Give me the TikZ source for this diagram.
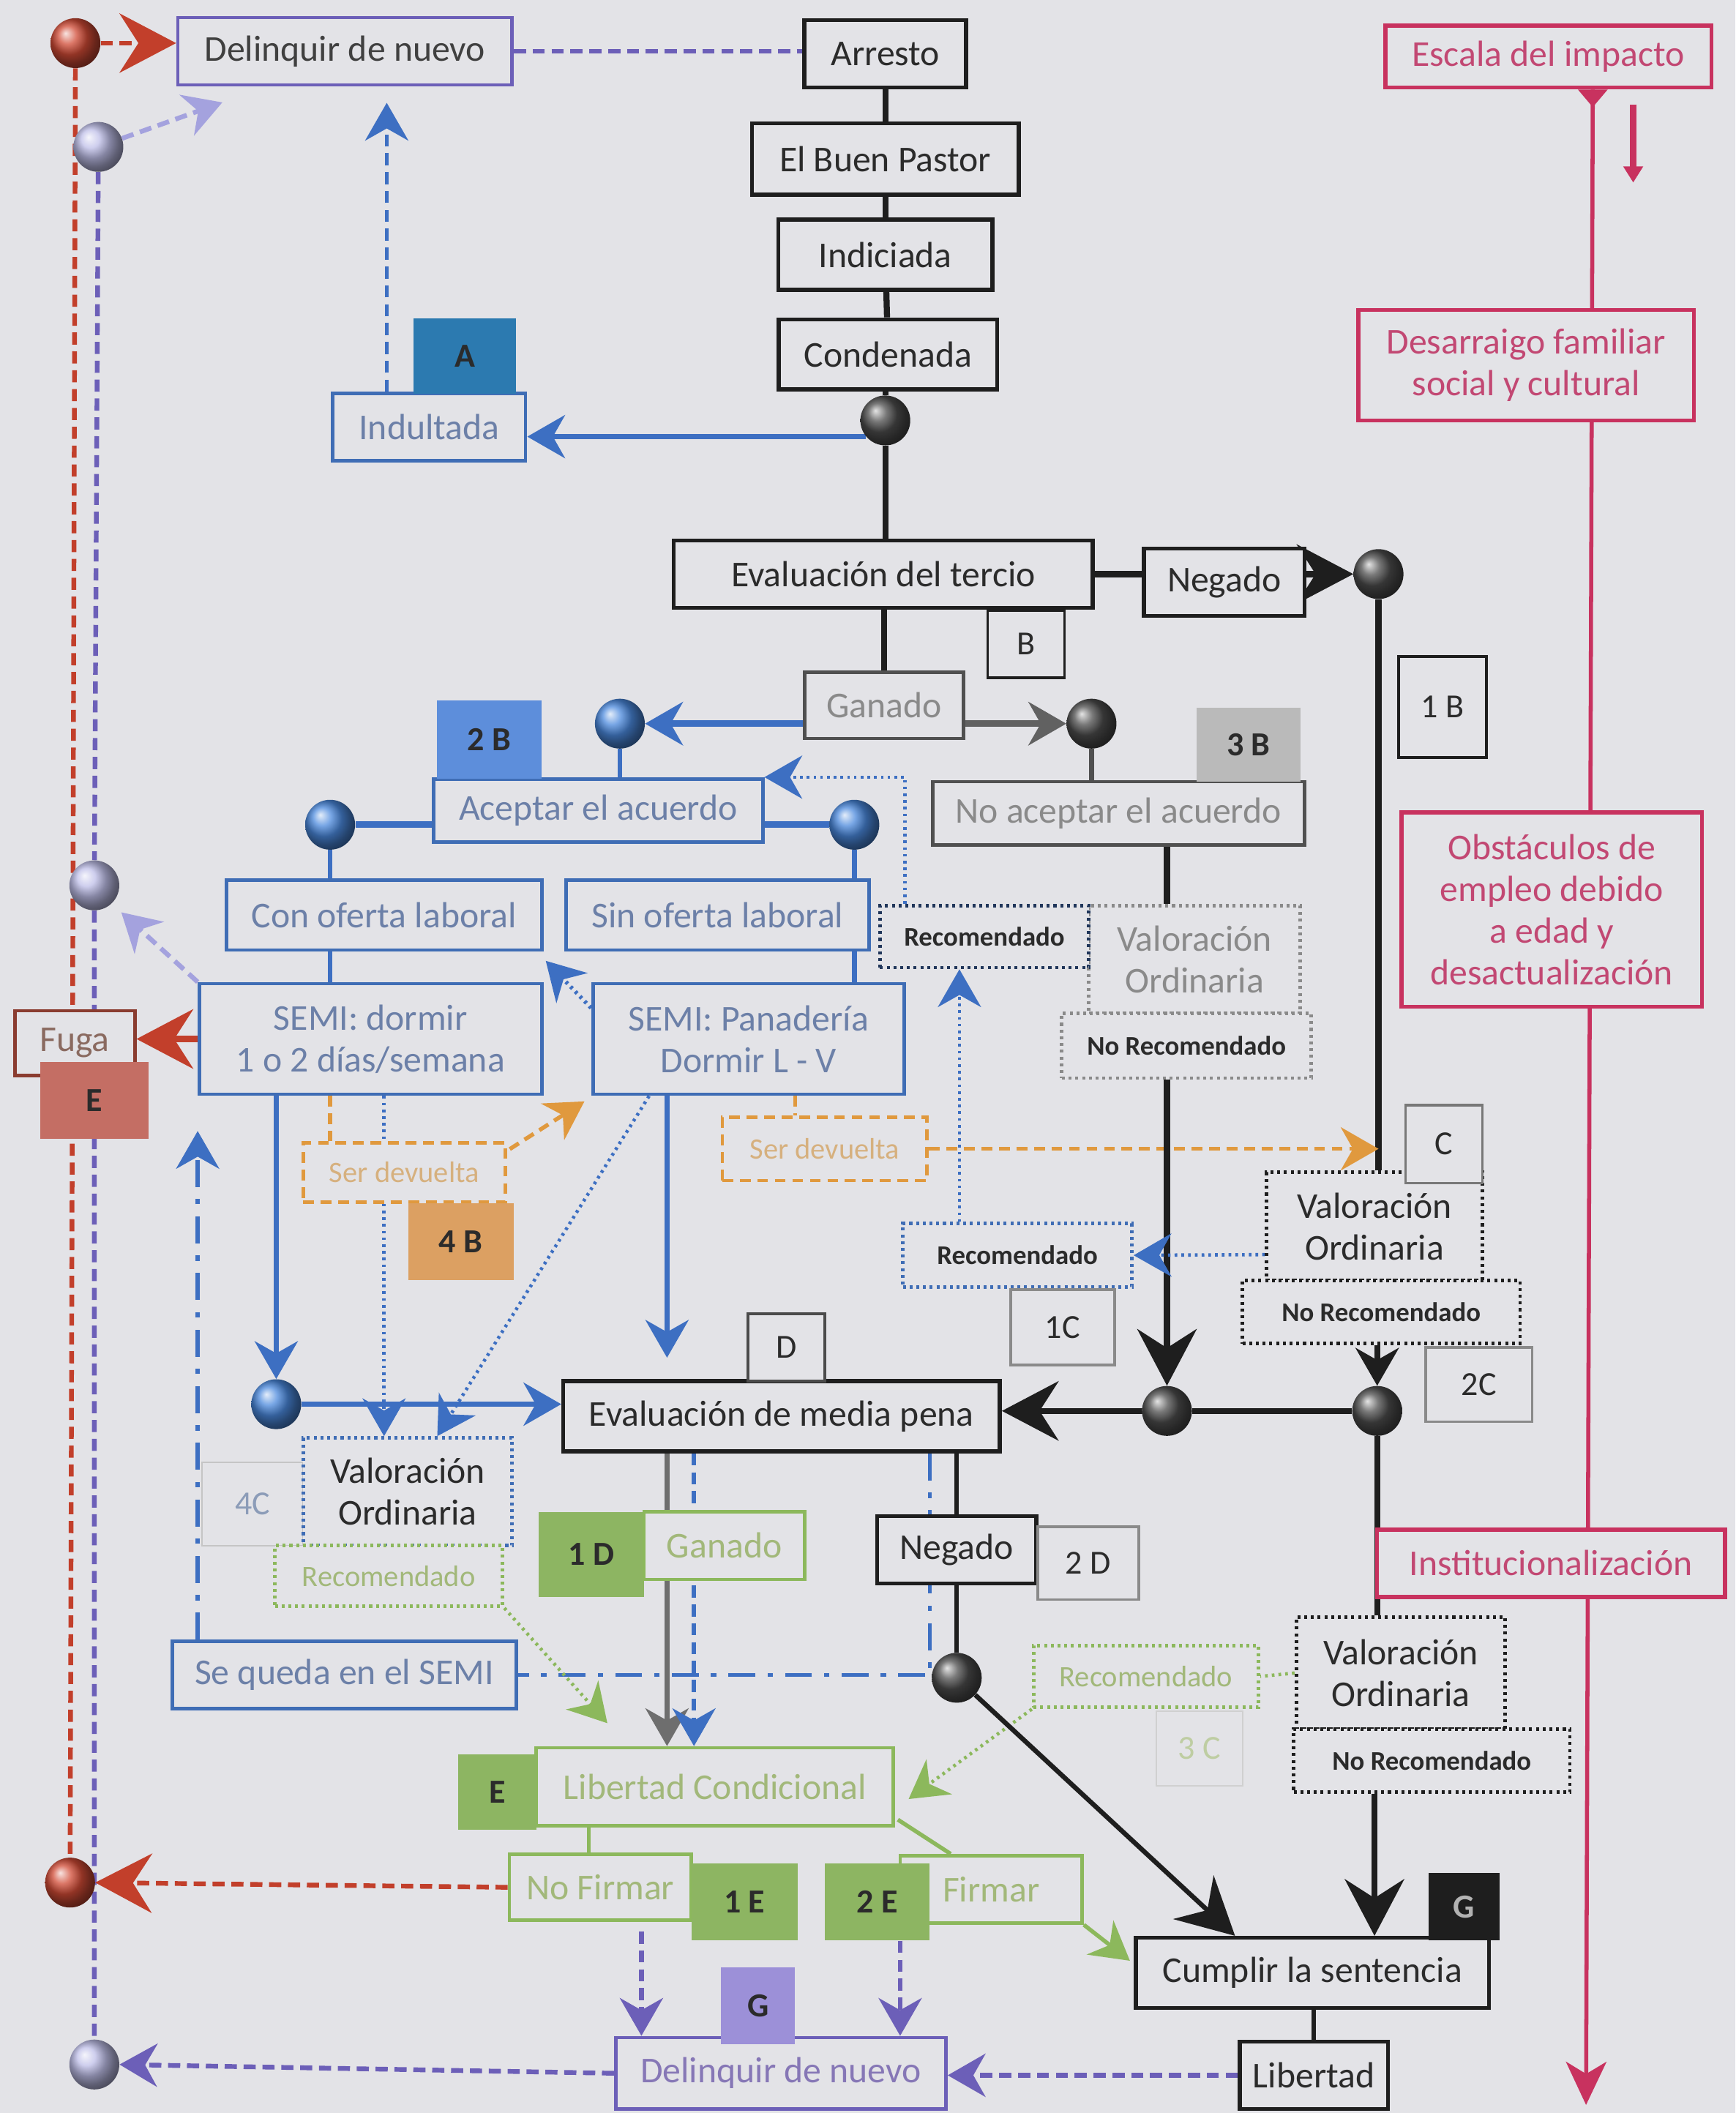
\documentclass[tikz,border=0pt]{standalone}
\usepackage{fontspec}
\setmainfont{Carlito}
\usetikzlibrary{arrows.meta,calc}
\pgfdeclarelayer{bgl}
\pgfdeclarelayer{edges}
\pgfsetlayers{bgl,edges,main}
\definecolor{bgc}{HTML}{E3E3E7}
\definecolor{blk}{HTML}{1E1E1E}
\definecolor{blktxt}{HTML}{2B2B2B}
\definecolor{bluec}{HTML}{3F6DB5}
\definecolor{bluetxt}{HTML}{6C80A8}
\definecolor{bluel}{HTML}{3D6FC2}
\definecolor{blueball}{HTML}{4A88DC}
\definecolor{greenc}{HTML}{8CB85C}
\definecolor{greentxt}{HTML}{A2B87A}
\definecolor{greenf}{HTML}{8DB562}
\definecolor{grayc}{HTML}{505050}
\definecolor{graytxt}{HTML}{8A8A8A}
\definecolor{grayf}{HTML}{BABABA}
\definecolor{purc}{HTML}{6C5FB8}
\definecolor{purtxt}{HTML}{8677B6}
\definecolor{purf}{HTML}{9C90D8}
\definecolor{magc}{HTML}{C8325F}
\definecolor{magtxt}{HTML}{C24873}
\definecolor{orc}{HTML}{E0993E}
\definecolor{ortxt}{HTML}{D6B07E}
\definecolor{orf}{HTML}{DCA062}
\definecolor{tealc}{HTML}{2C7AB0}
\definecolor{blf}{HTML}{5D8EDB}
\definecolor{fugac}{HTML}{8A3C30}
\definecolor{fugatxt}{HTML}{8A6A60}
\definecolor{ef}{HTML}{C46E64}
\definecolor{redc}{HTML}{C23F2B}
\definecolor{redb}{HTML}{D04A35}
\definecolor{lavb}{HTML}{BEBEE8}
\definecolor{lavc}{HTML}{A4A2DE}
\definecolor{labfc}{HTML}{8C9CB8}
\newcommand\mf{\fontsize{27}{31}\selectfont}
\newcommand\smf{\fontsize{22}{26}\selectfont}
\newcommand\rbf{\fontsize{20}{24}\selectfont\bfseries}
\newcommand\lbf{\fontsize{25}{28}\selectfont}
\begin{document}
\begin{tikzpicture}[x=1pt,y=-1pt,
  bx/.style={draw, fill=bgc, inner sep=0pt, align=center, font=\mf},
  bk/.style={bx, draw=blk, line width=3pt, text=blktxt},
  bl/.style={bx, draw=bluec, line width=2.6pt, text=bluetxt},
  gn/.style={bx, draw=greenc, line width=2.6pt, text=greentxt},
  gy/.style={bx, draw=grayc, line width=2.6pt, text=graytxt},
  pu/.style={bx, draw=purc, line width=2.6pt},
  mg/.style={bx, draw=magc, line width=3pt, text=magtxt},
  dt/.style={bx, line width=2.6pt, dash pattern=on 2.2pt off 2.8pt},
  obox/.style={bx, draw=orc, line width=2.6pt, dash pattern=on 8pt off 5pt, text=ortxt, font=\smf},
  lab/.style={draw=#1, fill=bgc, line width=2pt, inner sep=0pt, font=\lbf, text=blktxt},
  flab/.style={fill=#1, draw=none, inner sep=0pt, font=\lbf\bfseries, text=blktxt},
  ballc/.style={circle, inner sep=0pt, minimum size=37pt, shading=ball, ball color=#1},
  tipm/.style={-{Stealth[length=28pt,width=32pt,inset=9pt]}},
  tipb/.style={-{Stealth[length=42pt,width=44pt,inset=14pt]}},
  kline/.style={draw=blk, line width=4.5pt},
  bline/.style={draw=bluel, line width=3.5pt},
  bdash/.style={draw=bluel, line width=3pt, dash pattern=on 9pt off 5pt},
  bdot/.style={draw=bluel, line width=2.5pt, dash pattern=on 2pt off 3pt},
  bdd/.style={draw=bluel, line width=3pt, dash pattern=on 20pt off 9pt on 4pt off 9pt},
  gdot/.style={draw=greenc, line width=2.5pt, dash pattern=on 2pt off 3pt},
  odash/.style={draw=orc, line width=3pt, dash pattern=on 8pt off 5pt},
  pdash/.style={draw=purc, line width=3.5pt, dash pattern=on 9pt off 5pt},
  rdash/.style={draw=redc, line width=3.5pt, dash pattern=on 9pt off 5pt},
  ldash/.style={draw=lavc, line width=3.5pt, dash pattern=on 9pt off 5pt},
  mline/.style={draw=magc, line width=3pt},
]
\useasboundingbox (0,0) rectangle (1288,1568);
\begin{pgfonlayer}{bgl}
\fill[bgc] (0,0) rectangle (1288,1568);
\end{pgfonlayer}

% ---------- nodes ----------
\node[bk, minimum width=120, minimum height=50] (arresto) at (657,40) {Arresto};
\node[bk, minimum width=198, minimum height=53] (pastor) at (657,118) {El Buen Pastor};
\node[bk, minimum width=159, minimum height=52] (indic) at (657,189) {Indiciada};
\node[bk, minimum width=162, minimum height=52] (conden) at (659,263) {Condenada};
\node[ballc=black!70] (ball1) at (657,312) {};
\node[bl, minimum width=143, minimum height=50] (indul) at (318.5,317) {Indultada};
\node[flab=tealc, minimum width=76, minimum height=56] (labA) at (345,264) {A};
\node[pu, text=blktxt!90, minimum width=248, minimum height=50] (delinq1) at (256,38) {Delinquir de nuevo};

\node[mg, minimum width=242, minimum height=46] (escala) at (1149,42) {Escala del impacto};
\node[mg, minimum width=249, minimum height=82] (desarr) at (1132.5,271) {Desarraigo familiar\\social y cultural};
\node[mg, minimum width=223, minimum height=144] (obst) at (1151.5,675) {Obstáculos de\\empleo debido\\a edad y\\desactualización};
\node[mg, minimum width=258, minimum height=50] (instit) at (1151,1160) {Institucionalización};

\node[bk, minimum width=311, minimum height=50] (evter) at (655.5,426) {Evaluación del tercio};
\node[bk, minimum width=119, minimum height=50] (negado1) at (908.5,432) {Negado};
\node[ballc=black!70] (ball2) at (1023,426) {};
\node[lab=blk, minimum width=57, minimum height=50] (labB) at (761.5,478) {B};
\node[lab=blk, minimum width=65, minimum height=75] (lab1B) at (1070.5,524.5) {1 B};

\node[gy, minimum width=118, minimum height=49] (ganado1) at (656,523.5) {Ganado};
\node[ballc=blueball] (bball1) at (460,537) {};
\node[ballc=black!70] (ball3) at (810,537) {};
\node[bl, minimum width=244, minimum height=47] (aceptar) at (444,601.5) {Aceptar el acuerdo};
\node[flab=blf, minimum width=78, minimum height=58] (lab2B) at (363,549) {2 B};
\node[ballc=blueball] (bball2) at (245,612) {};
\node[ballc=blueball] (bball3) at (634,612) {};
\node[gy, minimum width=276, minimum height=47] (noacept) at (830,603.5) {No aceptar el acuerdo};
\node[flab=grayf, minimum width=77, minimum height=55] (lab3B) at (926.5,552.5) {3 B};

\node[dt, draw=graytxt, text=graytxt, minimum width=157, minimum height=80] (valg) at (886.5,712) {Valoración\\Ordinaria};
\node[dt, draw=bluec!50!black, font=\rbf, text=blktxt, minimum width=155, minimum height=46] (rec1) at (730.5,695) {Recomendado};
\node[dt, draw=graytxt, font=\rbf, text=blktxt, minimum width=185, minimum height=48] (norec1) at (880.5,776) {No Recomendado};

\node[bl, minimum width=234, minimum height=52] (conof) at (285,679) {Con oferta laboral};
\node[bl, minimum width=225, minimum height=52] (sinof) at (532.5,679) {Sin oferta laboral};
\node[bl, minimum width=254, minimum height=82] (semid) at (275,771) {SEMI: dormir\\1 o 2 días/semana};
\node[bl, minimum width=231, minimum height=82] (semip) at (555.5,771) {SEMI: Panadería\\Dormir L - V};
\node[bx, draw=fugac, line width=2.6pt, text=fugatxt, minimum width=89, minimum height=48] (fuga) at (55.5,774) {Fuga};
\node[flab=ef, minimum width=80, minimum height=57] (labE1) at (70,816.5) {E};

\node[obox, minimum width=150, minimum height=44] (serdev1) at (300,870) {Ser devuelta};
\node[flab=orf, minimum width=78, minimum height=57] (lab4B) at (342,921.5) {4 B};
\node[obox, minimum width=152, minimum height=47] (serdev2) at (612,852.5) {Ser devuelta};

\node[dt, draw=blk, text=blktxt, minimum width=160, minimum height=80] (valC) at (1020,910) {Valoración\\Ordinaria};
\node[lab=blk!60, minimum width=57, minimum height=58] (labC) at (1071.5,849) {C};
\node[dt, draw=bluec, font=\rbf, text=blktxt, minimum width=170, minimum height=47] (recC) at (755,931.5) {Recomendado};
\node[lab=graytxt, minimum width=77, minimum height=56] (lab1C) at (788.5,985) {1C};
\node[dt, draw=blk, font=\rbf, text=blktxt, minimum width=206, minimum height=47] (norecC) at (1025,973.5) {No Recomendado};
\node[lab=graytxt, minimum width=79, minimum height=55] (lab2C) at (1097.5,1027.5) {2C};
\node[ballc=black!70] (ball4) at (866,1047) {};
\node[ballc=black!70] (ball5) at (1022,1047) {};

\node[bk, minimum width=324, minimum height=52] (evmed) at (580,1051) {Evaluación de media pena};
\node[lab=blk!80, minimum width=57, minimum height=50] (labD) at (583.5,1000) {D};
\node[ballc=blueball] (bball4) at (205,1042) {};
\node[lab=graytxt!50, line width=1.2pt, text=labfc, minimum width=75, minimum height=62] (lab4C) at (187.5,1116) {4C};
\node[dt, draw=bluec, text=blktxt, minimum width=155, minimum height=80] (val4C) at (302.5,1107) {Valoración\\Ordinaria};
\node[dt, draw=greenc, text=greentxt, font=\smf, minimum width=169, minimum height=45] (rec4C) at (288.5,1169.5) {Recomendado};
\node[flab=greenf, minimum width=78, minimum height=63] (lab1D) at (439,1153.5) {1 D};
\node[gn, minimum width=119, minimum height=50] (ganado2) at (537.5,1147) {Ganado};
\node[bk, minimum width=118, minimum height=50] (negado2) at (710,1150) {Negado};
\node[lab=graytxt, minimum width=75, minimum height=54] (lab2D) at (807.5,1160) {2 D};
\node[ballc=black!70] (ball6) at (710,1245) {};
\node[bl, minimum width=255, minimum height=50] (sequeda) at (255.5,1243) {Se queda en el SEMI};
\node[dt, draw=greenc, text=greentxt, font=\smf, minimum width=167, minimum height=46] (rec3C) at (850.5,1244) {Recomendado};
\node[lab=graytxt!40, line width=1.2pt, text=greentxt!70!white, minimum width=64, minimum height=55] (lab3C) at (890,1297.5) {3 C};
\node[dt, draw=blk, text=blktxt, minimum width=155, minimum height=83] (val3C) at (1039.5,1241.5) {Valoración\\Ordinaria};
\node[dt, draw=blk, font=\rbf, text=blktxt, minimum width=205, minimum height=47] (norec3C) at (1062.5,1306.5) {No Recomendado};

\node[gn, minimum width=265, minimum height=58] (libcond) at (530.5,1326) {Libertad Condicional};
\node[flab=greenf, minimum width=58, minimum height=56] (labE2) at (369,1330) {E};
\node[gn, minimum width=135, minimum height=49] (nofirm) at (445.5,1400.5) {No Firmar};
\node[flab=greenf, minimum width=79, minimum height=57] (lab1E) at (552.5,1411.5) {1 E};
\node[gn, minimum width=135, minimum height=50] (firmar) at (735.5,1402) {Firmar};
\node[flab=greenf, minimum width=78, minimum height=57] (lab2E) at (651,1411.5) {2 E};
\node[bk, minimum width=262, minimum height=52] (cumplir) at (974,1464) {Cumplir la sentencia};
\node[flab=blk, text=white!70!black, minimum width=53, minimum height=50] (labG1) at (1086.5,1415) {G};
\node[bk, minimum width=110, minimum height=50] (libertad) at (975,1540) {Libertad};
\node[pu, text=purtxt, minimum width=245, minimum height=53] (delinq2) at (579.5,1538.5) {Delinquir de nuevo};
\node[flab=purf, minimum width=55, minimum height=57] (labG2) at (562.5,1488.5) {G};

\node[ballc=redb] (rball1) at (56,32) {};
\node[ballc=lavb] (lball1) at (73,109) {};
\node[ballc=lavb] (lball2) at (70,657) {};
\node[ballc=redb] (rball2) at (52,1397) {};
\node[ballc=lavb] (lball3) at (70,1532) {};

\coordinate (lavtip1) at (165,76);
\coordinate (bt1) at (405,713);
\coordinate (magend) at (1177,1562);

% ---------- connectors ----------
\begin{pgfonlayer}{edges}
\draw[mline,-{Stealth[length=32pt,width=30pt,inset=9pt]}] ($(escala.south)+(33,0)$) -- (magend);
\fill[magc] ($(escala.south)+(22,0)$) -- ($(escala.south)+(44,0)$) -- ($(escala.south)+(33,13)$) -- cycle;
\draw[draw=magc, line width=5pt, -{Triangle[length=12pt,width=14pt]}] ($(escala.south)+(63,11)$) -- ($(escala.south)+(63,69)$);

\draw[kline] (arresto) -- (pastor);
\draw[kline] (pastor) -- (indic);
\draw[kline] (indic) -- (conden);
\draw[kline] (conden.south -| ball1) -- (ball1) -- (ball1 |- evter.north);
\draw[bline, tipm] (ball1.220) -- (indul.east |- ball1.220);
\draw[bdash, tipm] ($(indul.north)+(-31.5,0)$) -- ($(delinq1.south)+(31,12)$);
\draw[pdash] (delinq1.east) -- (arresto.west |- delinq1.east);
\draw[rdash, tipb] (rball1) -- (delinq1.west |- rball1);
\draw[ldash, tipm] (lball1) -- (lavtip1);
\draw[rdash] (rball1) -- (rball2);
\draw[pdash] (lball1) -- (lball2) -- (lball3);

\draw[kline] (evter.east) -- (negado1.west |- evter.east);
\draw[kline, tipb] (negado1.east |- ball2) -- (ball2.west);
\draw[kline] (ball2) -- (ball2 |- valC.north);
\draw[kline] (evter.south -| ganado1) -- (ganado1.north);
\draw[bline, line width=5pt, tipm] (ganado1.west |- bball1) -- (bball1.east);
\draw[draw=graytxt!70!black, line width=5pt, tipm] (ganado1.east |- ball3) -- (ball3.west);
\draw[bline] (bball1) -- (bball1 |- aceptar.north);
\draw[draw=grayc, line width=3.5pt] (ball3) -- (ball3 |- noacept.north);
\draw[bline, line width=5pt] (aceptar.west |- bball2) -- (bball2);
\draw[bline, line width=5pt] (aceptar.east |- bball3) -- (bball3);
\draw[bline] (bball2) -- (bball2 |- conof.north);
\draw[bline] (bball3) -- (bball3 |- sinof.north);
\draw[bline] (conof.south -| bball2) -- (semid.north -| bball2);
\draw[bline] (sinof.south -| bball3) -- (semip.north -| bball3);
\draw[bdot, line width=3pt, tipm] ($(semip.west)+(0,-23)$) -- (bt1);
\draw[draw=redc, line width=5pt, tipb] (semid.west) -- (fuga.east |- semid.west);
\draw[ldash, tipm] (semid.north west) -- ($(lball2)+(20,20)$);
\draw[bline, tipm] (semid.south -| bball4) -- (bball4.north);
\draw[bline, tipm] (bball4) -- (evmed.west |- bball4);
\draw[bline, tipm] ($(semip.south)+(-60.5,0)$) -- ($(evmed.north)+(-85,-16)$);
\draw[odash] ($(semid.south)+(-30,0)$) -- ($(serdev1.north)+(-55,0)$);
\draw[odash, tipm] ($(serdev1.north east)+(2,6)$) -- ($(semip.south west)+(-5,4)$);
\draw[bdot, tipm] ($(semid.south)+(10,0)$) -- ($(val4C.north)+(-17.5,0)$);
\draw[bdot, tipm] ($(semip.south west)+(43,0)$) -- ($(val4C.north)+(22,0)$);
\draw[odash] ($(semip.south)+(34.5,0)$) -- ($(serdev2.north)+(-22,0)$);
\draw[odash, tipm] (serdev2.east) -- (serdev2.east -| ball2);
\draw[bdot, tipm] ($(recC.north)+(-43,0)$) -- ($(rec1.south)+(-18.5,0)$);
\draw[bdot, tipm] ($(rec1.north west)+(20,0)$) |- (aceptar.north east);

\draw[kline] (noacept.south -| ball4) -- (valg.north -| ball4);
\draw[kline, tipb] (norec1.south -| ball4) -- (ball4.north);
\draw[bdot, tipm] ($(valC.west)+(0,21)$) -- (recC.east);
\draw[kline, tipm] (norecC.south -| ball5) -- (ball5.north);
\draw[kline] (ball5) -- (ball4);
\draw[kline, tipb] (ball4) -- (evmed.east |- ball4);
\draw[kline] (ball5) -- (ball5 |- val3C.north);

\draw[draw=graytxt!80!black, line width=3.5pt, tipm] ($(evmed.south)+(-85,0)$) -- ($(libcond.north)+(-35.5,0)$);
\draw[bdash, tipm] ($(evmed.south)+(-65,0)$) -- ($(libcond.north)+(-15.5,0)$);
\draw[kline, line width=3.5pt] (evmed.south -| negado2) -- (negado2.north);
\draw[kline, line width=3.5pt] (negado2.south) -- (ball6);
\draw[bdd] ($(evmed.south)+(110,0)$) |- (sequeda.east);
\draw[bdd, tipm] ($(sequeda.north west)+(20,0)$) -- ($(semid.south west)+(0,26)$);
\draw[gdot] (val3C.west) -- (rec3C.east);
\draw[gdot, tipm] (rec3C.south west) -- ($(libcond.east)+(10,9)$);
\draw[gdot, tipm] (rec4C.south east) -- ($(libcond.north west)+(54,-17)$);
\draw[kline, line width=3.5pt, tipb] (ball6) -- ($(cumplir.north west)+(75,0)$);
\draw[kline, tipb] ($(norec3C.south)+(-42.5,0)$) -- ($(cumplir.north)+(46,0)$);
\draw[kline, line width=3.5pt] (cumplir.south -| libertad) -- (libertad.north);
\draw[pdash, tipm] (libertad.west) -- (delinq2.east |- libertad.west);
\draw[pdash, tipm] (delinq2.west) -- (lball3.east);
\draw[pdash, tipm] ($(nofirm.south)+(30.5,7)$) -- ($(delinq2.north)+(-103.5,0)$);
\draw[pdash, tipm] ($(lab2E.south)+(17,0)$) -- ($(delinq2.north)+(88.5,0)$);
\draw[draw=greenc, line width=3pt] ($(libcond.south)+(-93.5,0)$) -- ($(nofirm.north)+(-8.5,0)$);
\draw[draw=greenc, line width=3pt] ($(libcond.south east)+(2,-6)$) -- ($(firmar.north)+(-30,0)$);
\draw[draw=greenc, line width=3pt, tipm] (firmar.south east) -- ($(cumplir.west)+(-3,-9)$);
\draw[rdash, tipb] (nofirm.west) -- (rball2.east);
\end{pgfonlayer}
\end{tikzpicture}
\end{document}
